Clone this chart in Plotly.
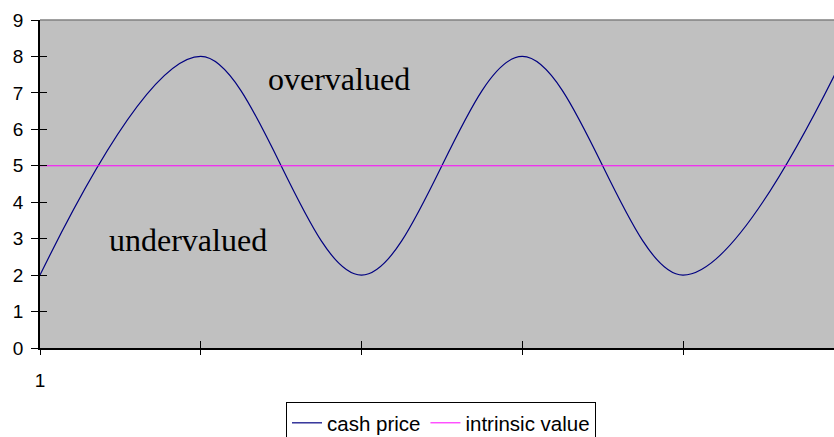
import plotly.graph_objects as go

# ---- data ----
periods = [1, 2, 3, 4, 5, 6]
cash_price = [2, 8, 2, 8, 2, 8]
intrinsic_value = [5, 5, 5, 5, 5, 5]
x_tick_labels = ["1", "", "", "", "", ""]
y_tick_values = [0, 1, 2, 3, 4, 5, 6, 7, 8, 9]

SANS = "Liberation Sans, Arial, sans-serif"
SERIF = "Liberation Serif, Times New Roman, serif"
XR = [1, 1 + 794 / 160.75]
YR = [0, 9]

fig = go.Figure()
fig.add_trace(go.Scatter(
    x=periods, y=cash_price, name="cash price", mode="lines",
    line=dict(color="#000080", width=1.2, shape="spline", smoothing=1),
    hoverinfo="skip"))
fig.add_trace(go.Scatter(
    x=periods, y=intrinsic_value, name="intrinsic value", mode="lines",
    line=dict(color="#FF00FF", width=1), xaxis="x2", yaxis="y2",
    hoverinfo="skip"))

fig.update_layout(
    width=834, height=437,
    margin=dict(l=40, r=0, t=20, b=89, autoexpand=False),
    paper_bgcolor="white",
    plot_bgcolor="#C0C0C0",
    font=dict(family=SANS, size=19, color="black"),
    xaxis=dict(range=XR, tickmode="array", tickvals=periods, ticktext=x_tick_labels,
               ticks="outside", ticklen=5, tickwidth=1, tickcolor="black",
               showline=True, linecolor="black", linewidth=1.5,
               showgrid=False, zeroline=False, ticklabelstandoff=9,
               tickfont=dict(family=SANS, size=19, color="black")),
    yaxis=dict(range=YR, tickmode="array", tickvals=y_tick_values,
               ticks="outside", ticklen=7, tickwidth=1, tickcolor="black",
               showline=True, linecolor="black", linewidth=1.5,
               showgrid=False, zeroline=False, ticklabelstandoff=4,
               tickfont=dict(family=SANS, size=19, color="black")),
    xaxis2=dict(overlaying="x", anchor="y2", range=XR, tickmode="array", tickvals=periods,
                ticks="inside", ticklen=7, tickwidth=1, tickcolor="black",
                showticklabels=False, showline=False, showgrid=False, zeroline=False),
    yaxis2=dict(overlaying="y", anchor="x2", side="left", range=YR, tickmode="array",
                tickvals=y_tick_values, ticks="inside", ticklen=7, tickwidth=1,
                tickcolor="black", showticklabels=False, showline=False,
                showgrid=False, zeroline=False),
    showlegend=True,
    legend=dict(orientation="h", x=(441 - 40) / 794, xanchor="center",
                y=(348 - 402) / 328, yanchor="top",
                bgcolor="white", bordercolor="black", borderwidth=1,
                font=dict(family=SANS, size=20.5, color="black"),
                itemwidth=30),
    shapes=[dict(type="line", xref="paper", yref="paper", x0=0, x1=1, y0=1, y1=1,
                 line=dict(color="#808080", width=1.5), layer="above")],
    annotations=[
        dict(text="overvalued", x=1 + 1.86, y=7.38, xref="x", yref="y", showarrow=False,
             font=dict(family=SERIF, size=32, color="black")),
        dict(text="undervalued", x=1 + 0.918, y=2.96, xref="x", yref="y", showarrow=False,
             font=dict(family=SERIF, size=32, color="black")),
    ],
)

fig.write_html("out.html",
               config={"displayModeBar": False},
               post_script="document.body.style.margin='0';document.body.style.overflow='hidden';")
